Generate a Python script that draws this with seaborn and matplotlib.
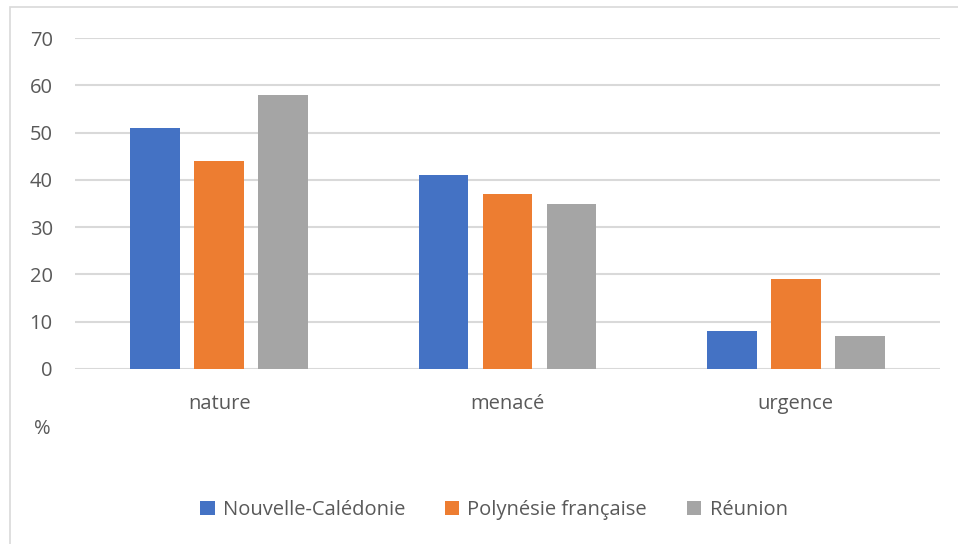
import matplotlib
matplotlib.use("Agg")
import matplotlib.pyplot as plt
import seaborn as sns
import pandas as pd
from matplotlib.patches import Rectangle, Patch

categories = ["nature", "menacé", "urgence"]
series = ["Nouvelle-Calédonie", "Polynésie française", "Réunion"]
nouvelle_caledonie = [51, 41, 8]
polynesie = [44, 37, 19]
reunion = [58, 35, 7]
colors = ["#4472C4", "#ED7D31", "#A5A5A5"]

rows = []
for name, vals in zip(series, [nouvelle_caledonie, polynesie, reunion]):
    for cat, v in zip(categories, vals):
        rows.append({"cat": cat, "serie": name, "val": v})
df = pd.DataFrame(rows)

sns.set_theme(style="white")
plt.rcParams["font.family"] = ["Open Sans", "DejaVu Sans"]
fs = 14.5

fig = plt.figure(figsize=(9.58, 5.44), dpi=100)
ax = fig.add_axes([75 / 958, 1 - 369 / 544, 865 / 958, 331 / 544])

sns.barplot(data=df, x="cat", y="val", hue="serie", palette=colors,
            width=0.666, gap=0.22, ax=ax, legend=False, saturation=1,
            linewidth=0)

ax.set_ylim(0, 70)
ax.set_yticks(range(0, 71, 10))
ax.set_xlim(-0.5, 2.5)
ax.yaxis.grid(True, color="#d9d9d9", linewidth=1.5)
ax.set_axisbelow(True)
for s in ax.spines.values():
    s.set_visible(False)
ax.set_xlabel("")
ax.set_ylabel("")
ax.tick_params(axis="y", length=0, pad=16, labelsize=fs, labelcolor="#595959")
ax.tick_params(axis="x", length=0, pad=18, labelsize=fs, labelcolor="#595959")

fig.text(42 / 958, 1 - 429 / 544, "%", ha="center", va="center",
         fontsize=fs, color="#595959")

handles = [Patch(facecolor=c, edgecolor="none") for c in colors]
fig.legend(handles, series, loc="center", bbox_to_anchor=(494 / 958, 1 - 510 / 544),
           ncol=3, frameon=False, fontsize=fs, labelcolor="#595959",
           handlelength=0.7, handleheight=0.7, handletextpad=0.4, columnspacing=2.0)

fig.patches.append(Rectangle((10 / 958, -0.05), 1.0, 1 - 7 / 544 + 0.05,
                             transform=fig.transFigure, fill=False,
                             edgecolor="#d9d9d9", linewidth=1.2))

fig.savefig("out.png", dpi=100)
